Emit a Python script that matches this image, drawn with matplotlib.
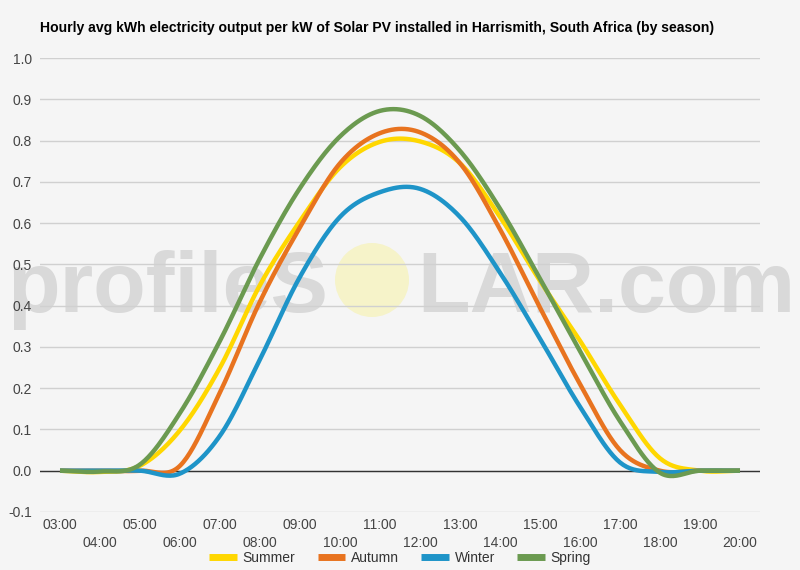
import numpy as np
import matplotlib.pyplot as plt
from matplotlib.patches import Ellipse

plt.rcParams['font.family'] = ['Liberation Sans', 'DejaVu Sans']

# hourly values, kWh per kW installed
hours = [3, 4, 5, 6, 7, 8, 9, 10, 11, 12, 13, 14, 15, 16, 17, 18, 19, 20]
hour_labels = ['03:00', '04:00', '05:00', '06:00', '07:00', '08:00', '09:00', '10:00', '11:00',
               '12:00', '13:00', '14:00', '15:00', '16:00', '17:00', '18:00', '19:00', '20:00']

summer = [0.0, -0.003, 0.012, 0.098, 0.25, 0.45, 0.605, 0.735, 0.797, 0.798, 0.745, 0.615, 0.46, 0.315, 0.16, 0.03, 0.0, 0.0]
autumn = [0.0, 0.0, 0.0, 0.012, 0.19, 0.41, 0.59, 0.745, 0.818, 0.82, 0.745, 0.585, 0.395, 0.21, 0.05, 0.0, 0.0, 0.0]
winter = [0.0, 0.0, 0.0, -0.007, 0.085, 0.27, 0.47, 0.615, 0.675, 0.683, 0.615, 0.48, 0.32, 0.155, 0.02, -0.003, 0.0, 0.0]
spring = [0.0, -0.002, 0.015, 0.14, 0.315, 0.515, 0.685, 0.81, 0.872, 0.86, 0.775, 0.635, 0.465, 0.29, 0.12, -0.005, 0.0, 0.0]

series = ['Summer', 'Autumn', 'Winter', 'Spring']
colors = ['#ffd700', '#e8731f', '#1e94c8', '#6b9a50']


def smooth(x, y, n=24):
    # cubic hermite through the points (catmull-rom tangents), like the web chart's curve
    x = np.asarray(x, float)
    y = np.asarray(y, float)
    m = np.gradient(y)
    xs, ys = [], []
    for i in range(len(y) - 1):
        t = np.linspace(0, 1, n, endpoint=False)
        h00 = 2*t**3 - 3*t**2 + 1
        h10 = t**3 - 2*t**2 + t
        h01 = -2*t**3 + 3*t**2
        h11 = t**3 - t**2
        xs.append(x[i] + t*(x[i+1] - x[i]))
        ys.append(h00*y[i] + h10*m[i] + h01*y[i+1] + h11*m[i+1])
    xs.append([x[-1]])
    ys.append([y[-1]])
    return np.concatenate(xs), np.concatenate(ys)


bg = '#f5f5f5'
fig = plt.figure(figsize=(8, 5.7), dpi=100, facecolor=bg)
ax = fig.add_axes([0.05, 0.1018, 0.90, 0.7964])
ax.set_facecolor(bg)

# watermark, behind the grid and the lines
wm = dict(fontsize=62, fontweight='bold', color='#d9d9d9', va='baseline',
          transform=fig.transFigure, zorder=0.3)
ax.text(0.411, 0.453, 'profileS', ha='right', **wm)
ax.text(0.521, 0.453, 'LAR.com', ha='left', **wm)
sun = Ellipse((0.465, 1 - 280/570), 74/800, 74/570, transform=fig.transFigure,
              facecolor='#f6f3c9', edgecolor='none', zorder=0.3, clip_on=False)
ax.add_patch(sun)

for name, vals, c in zip(series, [summer, autumn, winter, spring], colors):
    sx, sy = smooth(hours, vals)
    ax.plot(sx, sy, color=c, lw=3.2, label=name, solid_capstyle='butt', zorder=3)

ax.set_xlim(2.5, 20.5)
ax.set_ylim(-0.1, 1.0)
ax.set_yticks(np.arange(-0.1, 1.01, 0.1))
ax.set_yticklabels(['%.1f' % v for v in np.arange(-0.1, 1.01, 0.1)])
ax.set_xticks(hours)
ax.set_xticklabels([lab if i % 2 == 0 else '\n' + lab for i, lab in enumerate(hour_labels)])
for lab in ax.get_xticklabels():
    lab.set_linespacing(1.45)
ax.tick_params(axis='both', length=0, labelsize=10, labelcolor='#444444')
ax.tick_params(axis='y', pad=6)
ax.tick_params(axis='x', pad=4)
ax.grid(axis='y', color='#d0d0d0', lw=1)
ax.set_axisbelow(True)
ax.axhline(0, color='#333333', lw=1, zorder=1)
for s in ax.spines.values():
    s.set_visible(False)

fig.text(0.05, 0.951, 'Hourly avg kWh electricity output per kW of Solar PV installed in Harrismith, South Africa (by season)',
         fontsize=10.1, fontweight='bold', ha='left', va='center')

leg = fig.legend(loc='center', bbox_to_anchor=(0.5, 0.021), ncol=4, frameon=False, fontsize=10,
                 handlelength=2.0, columnspacing=1.6, handletextpad=0.4, labelcolor='#333333')
for h in leg.get_lines():
    h.set_linewidth(5)

fig.savefig('out.png', dpi=100, facecolor=bg)
